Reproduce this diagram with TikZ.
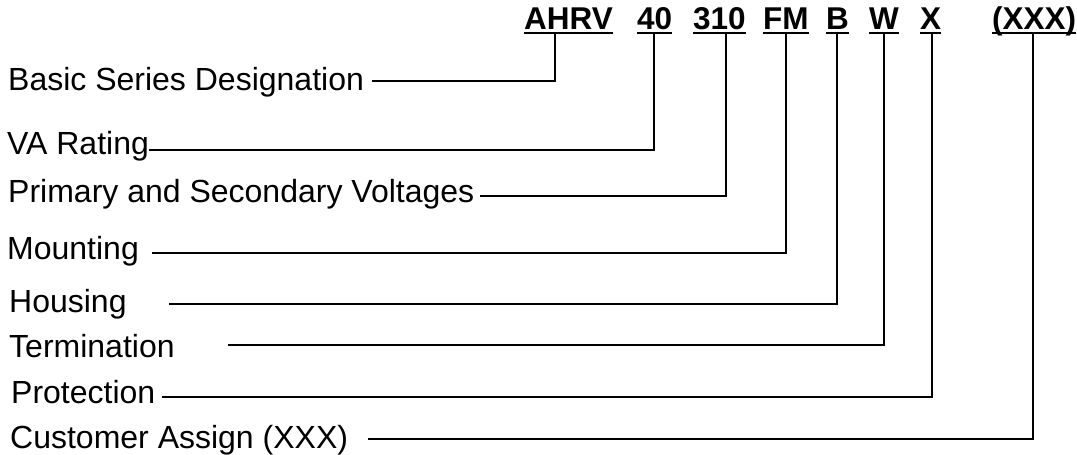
\documentclass[tikz,border=0pt]{standalone}
\usepackage{fontspec}
\setmainfont{Liberation Sans}
\begin{document}
\begin{tikzpicture}[x=1pt,y=-1pt,
  lbl/.style={anchor=base west, inner sep=0pt, font=\fontsize{32}{36}\selectfont},
  code/.style={anchor=base west, inner sep=0pt, font=\fontsize{31.5}{36}\selectfont\bfseries},
  conn/.style={line width=2pt, line join=miter},
  uline/.style={line width=2.4pt}]
\useasboundingbox (0,0) rectangle (1077,455);

% codes on top
\node[code] (c1) at (524,29) {AHRV};
\node[code] (c2) at (637,29) {40};
\node[code] (c3) at (693,29) {310};
\node[code] (c4) at (763,29) {FM};
\node[code] (c5) at (826,29) {B};
\node[code] (c6) at (869,29) {W};
\node[code] (c7) at (920,29) {X};
\node[code] (c8) at (992,29) {(XXX)};
\foreach \i in {1,...,8}{
  \draw[uline] ([yshift=-4pt]c\i.base west) -- ([yshift=-4pt]c\i.base east);
}

% labels
\node[lbl] (l1) at (8,90)  {Basic Series Designation};
\node[lbl] (l2) at (7,154) {VA Rating};
\node[lbl] (l3) at (8,202) {Primary and Secondary Voltages};
\node[lbl] (l4) at (7,259) {Mounting};
\node[lbl] (l5) at (9,312) {Housing};
\node[lbl] (l6) at (9,357) {Termination};
\node[lbl] (l7) at (11,403) {Protection};
\node[lbl] (l8) at (10,448) {Customer Assign (XXX)};

% connector start points
\coordinate (s1) at (372,81);
\coordinate (s2) at (149,150);
\coordinate (s3) at (480,196);
\coordinate (s4) at (152,253);
\coordinate (s5) at (169,304);
\coordinate (s6) at (228,345);
\coordinate (s7) at (162,397);
\coordinate (s8) at (368,439);

% connector end points (under codes)
\coordinate (e1) at (555,33);
\coordinate (e2) at (654,33);
\coordinate (e3) at (726,33);
\coordinate (e4) at (786,33);
\coordinate (e5) at (837,33);
\coordinate (e6) at (884,33);
\coordinate (e7) at (932,33);
\coordinate (e8) at (1033,33);

\foreach \i in {1,...,8}{
  \draw[conn] (s\i) -| (e\i);
}
\end{tikzpicture}
\end{document}
